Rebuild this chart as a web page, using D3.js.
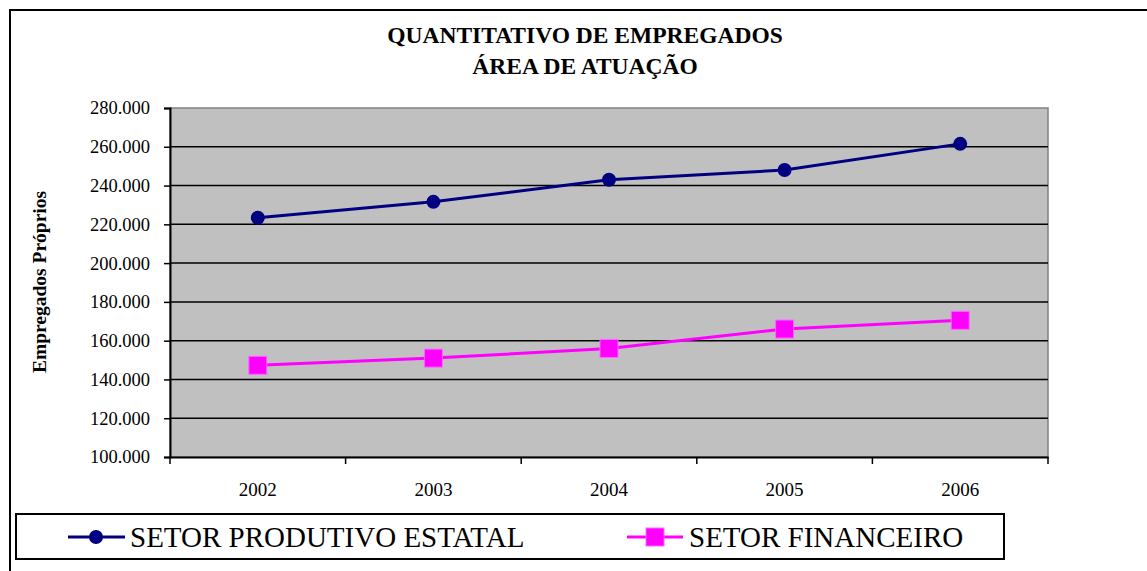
<!DOCTYPE html>
<html>
<head>
<meta charset="UTF-8">
<title>Quantitativo de empregados</title>
<style>
  body { margin: 0; background: #fff; }
  text { font-family: "Liberation Serif", "Times New Roman", serif; }
</style>
</head>
<body>
<script src="https://d3js.org/d3.v7.min.js"></script>
<script>
  // data
  const years = ["2002", "2003", "2004", "2005", "2006"]
  const produtivo = [223400, 231600, 243000, 248000, 261500]
  const financeiro = [147300, 151000, 156000, 166000, 170500]
  const yTicks = [100000, 120000, 140000, 160000, 180000, 200000, 220000, 240000, 260000, 280000]
  const seriesNames = ["SETOR PRODUTIVO ESTATAL", "SETOR FINANCEIRO"]

  const W = 1147, H = 571
  const plot = { left: 170, right: 1048, top: 108, bottom: 457 }

  const svg = d3.select("body").append("svg")
    .attr("width", W)
    .attr("height", H)

  // outer frame
  svg.append("rect")
    .attr("x", 10).attr("y", 10)
    .attr("width", W + 10).attr("height", H + 10)
    .attr("fill", "none").attr("stroke", "#000").attr("stroke-width", 2)

  // title
  const title = svg.append("text")
    .attr("text-anchor", "middle")
    .attr("font-weight", "bold")
    .attr("font-size", 23.5)
  title.append("tspan").attr("x", 585).attr("y", 43).text("QUANTITATIVO DE EMPREGADOS")
  title.append("tspan").attr("x", 585).attr("y", 74).text("ÁREA DE ATUAÇÃO")

  const x = d3.scaleBand().domain(years).range([plot.left, plot.right])
  const y = d3.scaleLinear().domain([100000, 280000]).range([plot.bottom, plot.top])

  // plot area
  svg.append("rect")
    .attr("x", plot.left).attr("y", plot.top)
    .attr("width", plot.right - plot.left).attr("height", plot.bottom - plot.top)
    .attr("fill", "#c0c0c0").attr("stroke", "#808080").attr("stroke-width", 1.5)

  // gridlines
  svg.append("g").selectAll("line")
    .data(yTicks.slice(1, -1))
    .join("line")
    .attr("x1", plot.left).attr("x2", plot.right)
    .attr("y1", d => y(d)).attr("y2", d => y(d))
    .attr("stroke", "#000").attr("stroke-width", 1.5)

  const fmt = d => d3.format(",")(d).replace(/,/g, ".")

  // y axis
  const yAxis = svg.append("g")
    .attr("transform", "translate(" + plot.left + ",0)")
    .call(d3.axisLeft(y).tickValues(yTicks).tickFormat(fmt).tickSize(6).tickPadding(14))
  yAxis.select(".domain").attr("stroke", "#000").attr("stroke-width", 2)
  yAxis.selectAll(".tick line").attr("stroke", "#000").attr("stroke-width", 1.5)
  yAxis.selectAll(".tick text")
    .attr("font-size", 18.5).attr("fill", "#000")

  // x axis
  const xAxis = svg.append("g")
    .attr("transform", "translate(0," + plot.bottom + ")")
    .call(d3.axisBottom(x).tickSize(0).tickPadding(26))
  xAxis.select(".domain").attr("stroke", "#000").attr("stroke-width", 2)
  xAxis.selectAll(".tick text")
    .attr("font-size", 19).attr("fill", "#000")
  // category boundary ticks
  const bounds = years.map(d => x(d)).concat([x.range()[1]])
  svg.append("g").selectAll("line")
    .data(bounds)
    .join("line")
    .attr("x1", d => d).attr("x2", d => d)
    .attr("y1", plot.bottom).attr("y2", plot.bottom + 7)
    .attr("stroke", "#000").attr("stroke-width", 1.5)

  // y axis title
  svg.append("text")
    .attr("transform", "translate(46,282) rotate(-90)")
    .attr("text-anchor", "middle")
    .attr("font-weight", "bold")
    .attr("font-size", 19.5)
    .text("Empregados Próprios")

  const cx = d => x(d) + x.bandwidth() / 2
  const line = d3.line().x(d => cx(d.year)).y(d => y(d.v))

  const blueData = years.map((yr, i) => ({ year: yr, v: produtivo[i] }))
  const pinkData = years.map((yr, i) => ({ year: yr, v: financeiro[i] }))

  svg.append("path").datum(blueData)
    .attr("d", line).attr("fill", "none")
    .attr("stroke", "#000080").attr("stroke-width", 3)
  svg.append("g").selectAll("circle")
    .data(blueData).join("circle")
    .attr("cx", d => cx(d.year)).attr("cy", d => y(d.v))
    .attr("r", 7).attr("fill", "#000080")

  svg.append("path").datum(pinkData)
    .attr("d", line).attr("fill", "none")
    .attr("stroke", "#ff00ff").attr("stroke-width", 3)
  svg.append("g").selectAll("rect")
    .data(pinkData).join("rect")
    .attr("x", d => cx(d.year) - 9).attr("y", d => y(d.v) - 9)
    .attr("width", 18).attr("height", 18)
    .attr("fill", "#ff00ff").attr("stroke", "#ff66ff").attr("stroke-width", 1)

  // legend
  svg.append("rect")
    .attr("x", 16).attr("y", 514)
    .attr("width", 988).attr("height", 45)
    .attr("fill", "#fff").attr("stroke", "#000").attr("stroke-width", 2)

  const ly = 537
  const lg = svg.append("g")
  lg.append("line").attr("x1", 68).attr("x2", 125).attr("y1", ly).attr("y2", ly)
    .attr("stroke", "#000080").attr("stroke-width", 3)
  lg.append("circle").attr("cx", 96).attr("cy", ly).attr("r", 7).attr("fill", "#000080")
  lg.append("text").attr("x", 130).attr("y", ly + 10)
    .attr("font-size", 29).text(seriesNames[0])

  lg.append("line").attr("x1", 627).attr("x2", 683).attr("y1", ly).attr("y2", ly)
    .attr("stroke", "#ff00ff").attr("stroke-width", 3)
  lg.append("rect").attr("x", 646).attr("y", ly - 9).attr("width", 18).attr("height", 18)
    .attr("fill", "#ff00ff").attr("stroke", "#ff66ff").attr("stroke-width", 1)
  lg.append("text").attr("x", 689).attr("y", ly + 10)
    .attr("font-size", 29).text(seriesNames[1])
</script>
</body>
</html>
